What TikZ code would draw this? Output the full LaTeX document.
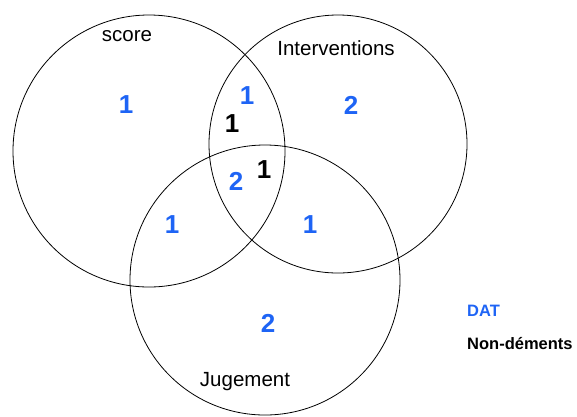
\documentclass[tikz,border=0pt]{standalone}
\usepackage{fontspec}
\setmainfont{Liberation Sans}
\usepackage{tikz}
\tikzset{>=latex}
\definecolor{datblue}{RGB}{30,100,245}

\begin{document}
\begin{tikzpicture}[x=1pt,y=-1pt,
    setcircle/.style={draw,line width=0.8pt,circle,inner sep=0pt},
    setlabel/.style={inner sep=0pt,font=\fontsize{20.5}{22}\selectfont},
    count/.style={inner sep=0pt,font=\fontsize{26}{28}\selectfont\bfseries},
    legend/.style={inner sep=0pt,anchor=west,font=\fontsize{16.5}{18}\selectfont\bfseries}]
  % canvas
  \useasboundingbox (0,0) rectangle (577,416);

  % radii
  \def\rs{136}  % score
  \def\ri{129}  % interventions
  \def\rj{135}  % jugement

  % sets
  \node[setcircle,minimum size=2*\rs] (score) at (149,151) {};
  \node[setcircle,minimum size=2*\ri] (interv) at (338,144) {};
  \node[setcircle,minimum size=2*\rj] (juge) at (265,280) {};

  % set names
  \node[setlabel] (scorelbl) at (127,36) {score};
  \node[setlabel] (intervlbl) at (336,48) {Interventions};
  \node[setlabel] (jugelbl) at (245,382) {Jugement};

  % counts (DAT in blue, non-dements in black)
  \foreach \x/\y/\n/\c [count=\i] in {126/105/1/datblue, 247/96/1/datblue,
      232/124/1/black, 236/181/2/datblue, 264/170/1/black, 351/105/2/datblue,
      172/225/1/datblue, 310/225/1/datblue, 268/323/2/datblue}{
    \node[count,text=\c] (cnt\i) at (\x,\y) {\n};
  }

  % legend
  \node[legend,text=datblue] (dat) at (467,311) {DAT};
  \node[legend] (nondem) at (467,344) {Non-déments};
\end{tikzpicture}
\end{document}
